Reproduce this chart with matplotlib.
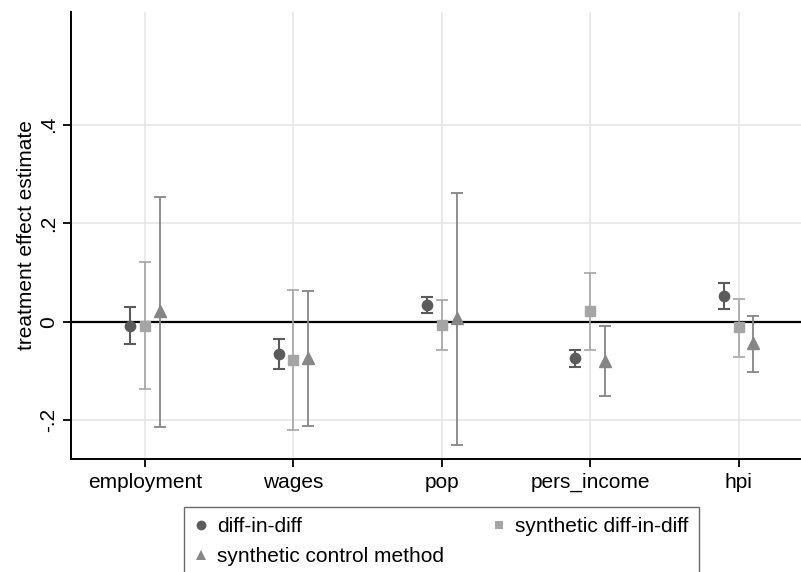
import matplotlib.pyplot as plt
from matplotlib.lines import Line2D

plt.rcParams['font.family'] = ['Liberation Sans', 'DejaVu Sans']

outcomes = ["employment", "wages", "pop", "pers_income", "hpi"]

did_est = [-0.008, -0.066, 0.034, -0.074, 0.053]
did_lo = [-0.045, -0.095, 0.018, -0.091, 0.025]
did_hi = [0.030, -0.035, 0.051, -0.057, 0.078]

sdid_est = [-0.009, -0.078, -0.007, 0.021, -0.011]
sdid_lo = [-0.137, -0.220, -0.058, -0.057, -0.071]
sdid_hi = [0.121, 0.064, 0.044, 0.099, 0.047]

scm_est = [0.022, -0.073, 0.007, -0.079, -0.044]
scm_lo = [-0.213, -0.212, -0.251, -0.151, -0.102]
scm_hi = [0.254, 0.063, 0.262, -0.009, 0.012]

ytick_vals = [-0.2, 0, 0.2, 0.4]
ytick_labels = ["-.2", "0", ".2", ".4"]

fig = plt.figure(figsize=(8.01, 5.72), dpi=100)
ax = fig.add_axes([0.0886, 0.198, 0.926, 0.7805])

pos = list(range(1, len(outcomes) + 1))
series = [
    (did_est, did_lo, did_hi, -0.1, "o", 7.4, "#5b5b5b", 1.5, "diff-in-diff"),
    (sdid_est, sdid_lo, sdid_hi, 0.0, "s", 6.6, "#a5a5a5", 1.2, "synthetic diff-in-diff"),
    (scm_est, scm_lo, scm_hi, 0.1, "^", 8.2, "#868686", 1.3, "synthetic control method"),
]
handles = {}
for est, lo, hi, off, mk, ms, col, lw, lab in series:
    xs = [p + off for p in pos]
    err = [[e - l for e, l in zip(est, lo)], [h - e for e, h in zip(est, hi)]]
    ax.errorbar(xs, est, yerr=err, fmt=mk, ms=ms, color=col, ecolor=col,
                mec=col, elinewidth=lw, capsize=4, capthick=lw, zorder=3)
    handles[lab] = Line2D([], [], ls="none", marker=mk, ms=ms * 0.95, color=col, mew=0)

ax.axhline(0, color="black", lw=1.6, zorder=2)

ax.set_xlim(0.5, 5.5)
ax.set_ylim(-0.278, 0.628)
ax.set_xticks(pos)
ax.set_xticklabels(outcomes, fontsize=15)
ax.set_yticks(ytick_vals)
ax.set_yticklabels(ytick_labels, fontsize=15, rotation=90, va="center")
ax.set_ylabel("treatment effect estimate", fontsize=15, labelpad=2)

ax.grid(True, color="#e6e6e6", lw=1.2, zorder=0)
ax.set_axisbelow(True)
for s in ["top", "right"]:
    ax.spines[s].set_visible(False)
for s in ["left", "bottom"]:
    ax.spines[s].set_linewidth(1.4)
ax.tick_params(axis="both", direction="out", length=6, width=1.3)
ax.tick_params(axis="y", pad=3.5)
ax.tick_params(axis="x", pad=4)

order = ["diff-in-diff", "synthetic control method", "synthetic diff-in-diff"]
leg = fig.legend([handles[k] for k in order], order, ncol=2, loc="upper left",
                 bbox_to_anchor=(184 / 801, 1 - 507 / 572), fontsize=15,
                 frameon=True, fancybox=False, edgecolor="#444444",
                 handlelength=0.6, handletextpad=0.5, columnspacing=2.3,
                 borderpad=0.5, labelspacing=0.5, borderaxespad=0)
leg.get_frame().set_linewidth(1.0)

fig.savefig("out.png", dpi=100)
